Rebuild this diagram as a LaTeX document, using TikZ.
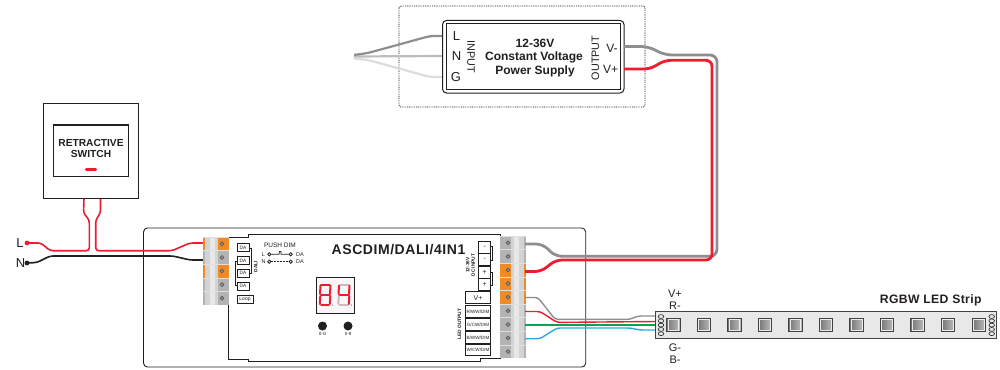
\documentclass[tikz,border=0pt]{standalone}
\usepackage{fontspec}
\setmainfont{Liberation Sans}
\definecolor{wr}{HTML}{ED1C2E}
\definecolor{wg}{HTML}{8E8E90}
\definecolor{wl}{HTML}{BDBDBF}
\definecolor{wll}{HTML}{DCDCDC}
\definecolor{og}{HTML}{F08A24}
\definecolor{tg}{HTML}{B2B3B5}
\definecolor{st1}{HTML}{D2D3D5}
\definecolor{st2}{HTML}{E8E8E9}
\definecolor{wgn}{HTML}{00A651}
\definecolor{wbl}{HTML}{29ABE2}
\definecolor{ink}{HTML}{231F20}
\definecolor{sgoff}{HTML}{D0B8BC}
\newcommand{\fs}[1]{\fontsize{#1}{#1}\selectfont}
\tikzset{
 tx/.style={inner sep=0pt,text=ink,align=center},
 box/.style={draw=ink,line width=.8pt,fill=white,inner sep=0pt,text=ink,align=center},
 wire/.style={line width=#1,line join=round},
 seg/.style={line width=2pt,color=wr,line cap=round},
 segoff/.style={line width=2pt,color=sgoff,line cap=round},
}
\newcommand{\tblock}[4]{% x, y, colour, side
 \ifnum#4=0
  \fill[#3] (#1,#2) rectangle ++(26,13.6);
  \fill[st1] (#1+2,#2) rectangle ++(5,13.6);
  \fill[st2] (#1+7,#2) rectangle ++(5,13.6);
  \fill[st1] (#1+12,#2) rectangle ++(3,13.6);
  \draw[white!75!gray,line width=.4pt] (#1,#2) -- ++(26,0);
  \filldraw[fill=tg!85!black,draw=ink!75,line width=.7pt] (#1+19,#2+6.8) circle (1.9);
 \else
  \fill[#3] (#1,#2) rectangle ++(26,13.6);
  \fill[st1] (#1+11,#2) rectangle ++(3,13.6);
  \fill[st2] (#1+14,#2) rectangle ++(5,13.6);
  \fill[st1] (#1+19,#2) rectangle ++(5,13.6);
  \draw[white!75!gray,line width=.4pt] (#1,#2) -- ++(26,0);
  \filldraw[fill=tg!85!black,draw=ink!75,line width=.7pt] (#1+8,#2+6.8) circle (1.9);
 \fi}
\newcommand{\ledsq}[1]{%
 \shade[left color=gray!90!black,right color=gray!50,draw=ink!85,line width=1pt] (#1-6.8,318.2) rectangle (#1+6.8,331.8);
 \draw[white!85!gray,line width=.7pt] (#1-5.4,319.6) rectangle (#1+5.4,330.4);}
\begin{document}
\begin{tikzpicture}[x=1pt,y=-1pt]
\useasboundingbox (0,0) rectangle (1000,369);
\fill[white] (0,0) rectangle (1000,369);
% ---- named wire ends
\coordinate (psuL) at (442,36);
\coordinate (psuN) at (442,56);
\coordinate (psuG) at (442,77);
\coordinate (psuVm) at (624,46.5);
\coordinate (psuVp) at (624,69);
\coordinate (inA) at (354,55);
\coordinate (inB) at (354,56.5);
\coordinate (inC) at (354,58.5);
\coordinate (swL) at (84,198);
\coordinate (swR) at (100.5,198);
\coordinate (dotL) at (27,243);
\coordinate (dotN) at (27,263);
\coordinate (tL) at (204,243);
\coordinate (tN) at (204,260);
\coordinate (dcm) at (525,244);
\coordinate (dcp) at (525,271.5);
\coordinate (oV) at (525,297.5);
\coordinate (oR) at (525,311.5);
\coordinate (oG) at (525,325);
\coordinate (oB) at (525,338.7);
\coordinate (sV) at (656,316);
\coordinate (sR) at (656,321.5);
\coordinate (sG) at (656,325);
\coordinate (sB) at (656,330);
% ---- PSU dotted frame
\draw[ink,line width=.7pt,dash pattern=on .9pt off .9pt,rounded corners=2pt] (399,6) rectangle (645,107);
% ---- input wires
\draw[wll,wire=2.2pt,rounded corners=4pt] (inC) -- (368,60) -- (430,77) -- (psuG);
\draw[wl,wire=2.2pt] (inB) -- (psuN);
\draw[wg,wire=2.2pt,rounded corners=4pt] (inA) -- (368,53) -- (430,36) -- (psuL);
% ---- PSU
\draw[ink,line width=1pt,fill=white,rounded corners=4pt] (442.5,20.5) rectangle (624,93);
\draw[ink,line width=1pt] (446,24) rectangle (620.5,89.5);
\node[tx,font=\fs{13}] (tL1) at (456.5,36) {L};
\node[tx,font=\fs{13}] (tN1) at (456.5,56.5) {N};
\node[tx,font=\fs{13}] (tG1) at (456,77) {G};
\node[tx,font=\fs{10.8},rotate=-90] (tin) at (471,57) {INPUT};
\node[tx,font=\fs{10.8},rotate=90] (tout) at (595.5,58) {OUTPUT};
\node[tx,font=\fs{12}] (tVm) at (612,48) {V-};
\node[tx,font=\fs{12}] (tVp) at (610.5,69) {V+};
\node[tx,font=\bfseries\fs{12}] (p1) at (535,43) {12-36V};
\node[tx,font=\bfseries\fs{12}] (p2) at (534,57) {Constant Voltage};
\node[tx,font=\bfseries\fs{12}] (p3) at (535,71.5) {Power Supply};
% ---- controller body
\draw[ink,line width=.9pt,fill=white,rounded corners=4pt] (143.5,228) rectangle (585.7,367);
% ---- mains wires
\draw[wr,wire=1.6pt,rounded corners=3pt] (swL) -- (83.5,213) -- (89.3,220) -- (89.3,250.7) -- (50,250.7) -- (41,243) -- (dotL);
\draw[wr,wire=1.6pt,rounded corners=3pt] (swR) -- (100.5,213) -- (95.7,220) -- (95.7,250.7) -- (172,250.7) -- (190,243) -- (tL);
\draw[ink,wire=1.6pt,rounded corners=3pt] (dotN) -- (37,262.5) -- (50,256) -- (173,256) -- (190,260) -- (tN);
\fill[wr] (dotL) circle (2.4);
\fill[ink] (dotN) circle (2.4);
\node[tx,font=\fs{13}] (Ltxt) at (20,243) {L};
\node[tx,font=\fs{13}] (Ntxt) at (20.5,263) {N};
% ---- inner panel
\draw[ink,line width=.9pt,fill=white] (228,237) -- (248,237) -- (248,234) -- (500,234) -- (500,358) -- (480,358) -- (480,361) -- (248,361) -- (248,359) -- (228,359) -- cycle;
% ---- terminals
\tblock{203}{237}{og}{0}
\tblock{203}{250.6}{tg}{0}
\tblock{203}{264.2}{og}{0}
\tblock{203}{277.8}{tg}{0}
\tblock{203}{291.4}{tg}{0}
\tblock{500}{236}{tg}{1}
\tblock{500}{249.6}{tg}{1}
\tblock{500}{263.2}{og}{1}
\tblock{500}{276.8}{og}{1}
\tblock{500}{290.4}{og}{1}
\tblock{500}{304}{tg}{1}
\tblock{500}{317.6}{tg}{1}
\tblock{500}{331.2}{tg}{1}
\tblock{500}{344.8}{tg}{1}
% ---- left labels
\draw[ink,line width=.7pt] (249,248) -- (251,248) -- (251,273) -- (249,273);
\draw[ink,line width=.7pt] (237,261) -- (235,261) -- (235,285.5) -- (237,285.5);
\foreach \n/\y in {a/247.7,b/260.7,c/273,d/286}{
 \node[box,minimum width=12pt,minimum height=8pt,font=\fs{4.8}] (da\n) at (243,\y) {DA};}
\node[box,minimum width=16pt,minimum height=7.5pt,font=\fs{5}] (loop) at (245,299.5) {Loop};
\node[tx,font=\bfseries\fs{4.8},rotate=90] (dali) at (255.8,266.5) {DALI};
\node[tx,font=\fs{6.5}] (push) at (280,245.7) {PUSH DIM};
\node[tx,font=\fs{5.5}] (rL) at (263.5,254.5) {L};
\node[tx,font=\fs{5.5}] (rN) at (263.5,261.8) {N};
\node[tx,font=\fs{5.5}] (rD1) at (300,254.5) {DA};
\node[tx,font=\fs{5.5}] (rD2) at (300,261.8) {DA};
\node[draw=ink,line width=.8pt,circle,minimum size=3.2pt,inner sep=0pt] (c1) at (269.3,254.3) {};
\node[draw=ink,line width=.8pt,circle,minimum size=3.2pt,inner sep=0pt] (c2) at (290.7,254.3) {};
\node[draw=ink,line width=.8pt,circle,minimum size=3.2pt,inner sep=0pt] (c3) at (269.3,261.7) {};
\node[draw=ink,line width=.8pt,circle,minimum size=3.2pt,inner sep=0pt] (c4) at (290.7,261.7) {};
\draw[ink,line width=.7pt] (c1) -- (279,254.3) -- (279.5,251.5) -- (281,251.5) -- (281,254.3) -- (c2);
\draw[ink,line width=.7pt,dash pattern=on 2pt off 1pt] (c3) -- (c4);
% ---- display
\draw[ink,line width=1pt,fill=gray!6] (316,277.5) rectangle (354.7,313);
\begin{scope}[shift={(319.5,0)}]
 \draw[seg] (1.5,284.5) -- (10,284.5);
 \draw[seg] (1.5,295) -- (10,295);
 \draw[seg] (1.5,305) -- (9.5,305);
 \draw[seg] (1,285.5) -- (.5,294);
 \draw[seg] (.8,296) -- (.3,304);
 \draw[seg] (11,285.5) -- (10.5,294);
 \draw[seg] (10.8,296) -- (10.3,304);
 \fill[gray] (13,305) circle (.7);
\end{scope}
\begin{scope}[shift={(338,0)}]
 \draw[segoff] (1.5,284.5) -- (10.5,284.5);
 \draw[segoff] (1.5,305) -- (10,305);
 \draw[segoff] (.8,296) -- (.3,304);
 \draw[seg] (1.5,295) -- (10.5,295);
 \draw[seg] (1,285.5) -- (.5,294);
 \draw[seg] (11.5,285.5) -- (11,294);
 \draw[seg] (11.3,296) -- (10.8,304);
 \fill[gray] (13.5,305) circle (.7);
\end{scope}
\node[circle,fill=ink,minimum size=9pt,inner sep=0pt] (b1) at (322.5,326) {};
\node[circle,fill=ink,minimum size=9pt,inner sep=0pt] (b2) at (348,326) {};
\node[tx,font=\fs{4.5}] (b1t) at (322.5,334) {0-G};
\node[tx,font=\fs{4.5}] (b2t) at (348,334) {0-9};
\node[tx,font=\bfseries\fs{14}] (title) at (398.5,250) {\addfontfeature{LetterSpace=4}ASCDIM/DALI/4IN1};
% ---- right labels
\draw[ink,line width=.7pt] (490.7,246) -- (492.7,246) -- (492.7,260) -- (490.7,260);
\draw[ink,line width=.7pt] (490.7,272) -- (492.7,272) -- (492.7,285) -- (490.7,285);
\foreach \n/\t/\y in {a/-/247,b/-/259.5,c/+/272,d/+/284.5}{
 \node[box,minimum width=12pt,minimum height=12.2pt,font=\fs{7}] (dc\n) at (484.7,\y) {\t};}
\node[tx,font=\bfseries\fs{4.8},rotate=90,align=center] (dct) at (470.5,265) {12-36V\\[.6pt]DC INPUT};
\node[box,minimum width=25pt,minimum height=11.5pt,font=\fs{7}] (ov) at (478,297.6) {V+};
\node[box,minimum width=25pt,minimum height=11.5pt,font=\fs{4.6}] (o1) at (478,311.5) {R/WW/DIM};
\node[box,minimum width=25pt,minimum height=11.5pt,font=\fs{4.6}] (o2) at (478,324.5) {G/CW/DIM};
\node[box,minimum width=25pt,minimum height=11.5pt,font=\fs{4.6}] (o3) at (478,337.5) {B/WW/DIM};
\node[box,minimum width=25pt,minimum height=11.5pt,font=\fs{4.6}] (o4) at (478,349.8) {W/CW/DIM};
\node[tx,font=\bfseries\fs{4.8},rotate=90] (ledo) at (459.5,324) {LED OUTPUT};
% ---- DC wires
\draw[wg,wire=2.8pt,rounded corners=7pt] (psuVm) -- (648,46.5) -- (665,55) -- (717,55) -- (717,256.3) -- (555,256.3) -- (543,244) -- (dcm);
\draw[wr,wire=2.8pt,rounded corners=6pt] (psuVp) -- (650,69) -- (665,60.3) -- (712,60.3) -- (712,260) -- (556,260) -- (541,271.5) -- (dcp);
% ---- LED wires
\draw[wg,wire=1.4pt,rounded corners=3pt] (oV) -- (538,297.5) -- (555,319.3) -- (630,319.3) -- (638,316) -- (sV);
\draw[wr,wire=1.4pt,rounded corners=3pt] (oR) -- (540,311.5) -- (557,322.4) -- (sR);
\draw[wgn,wire=1.4pt] (oG) -- (sG);
\draw[wbl,wire=1.4pt,rounded corners=3pt] (oB) -- (540,338.7) -- (557,328) -- (630,328) -- (640,330) -- (sB);
% ---- switch
\draw[ink,line width=1.1pt,fill=white] (43.5,103.7) rectangle (138.3,198.3);
\draw[ink,line width=1.1pt] (53.5,125) rectangle (128.3,176.7);
\node[tx,font=\bfseries\fs{10.2}] (sw1) at (91,143.3) {RETRACTIVE};
\node[tx,font=\bfseries\fs{10.2}] (sw2) at (91,154.3) {SWITCH};
\draw[wr,line width=3.2pt,line cap=round] (86.5,169.3) -- (95.5,169.3);
% ---- strip
\draw[ink!85,line width=.9pt,fill=gray!18] (655.7,311.7) rectangle (996.7,338.3);
\foreach \y in {0,1,2,3,4}{
 \draw[ink,line width=.6pt] (661,316.5+\y*4.3) ellipse (2.8 and 1.9);
 \draw[ink,line width=.6pt] (991.7,316.5+\y*4.3) ellipse (2.8 and 1.9);}
\foreach \x in {673.3,704,734.3,765,795.3,826,856.5,887,917.6,948,979}{\ledsq{\x}}
\node[tx,font=\fs{11}] (vp) at (675,293.5) {V+};
\node[tx,font=\fs{11}] (rm) at (675,305.5) {R-};
\node[tx,font=\fs{11}] (gm) at (675,347.5) {G-};
\node[tx,font=\fs{11}] (bm) at (675,359.5) {B-};
\node[tx,font=\bfseries\fs{12.2},text=ink] (strip) at (930.7,300) {\addfontfeature{LetterSpace=3}RGBW LED Strip};
\end{tikzpicture}
\end{document}
